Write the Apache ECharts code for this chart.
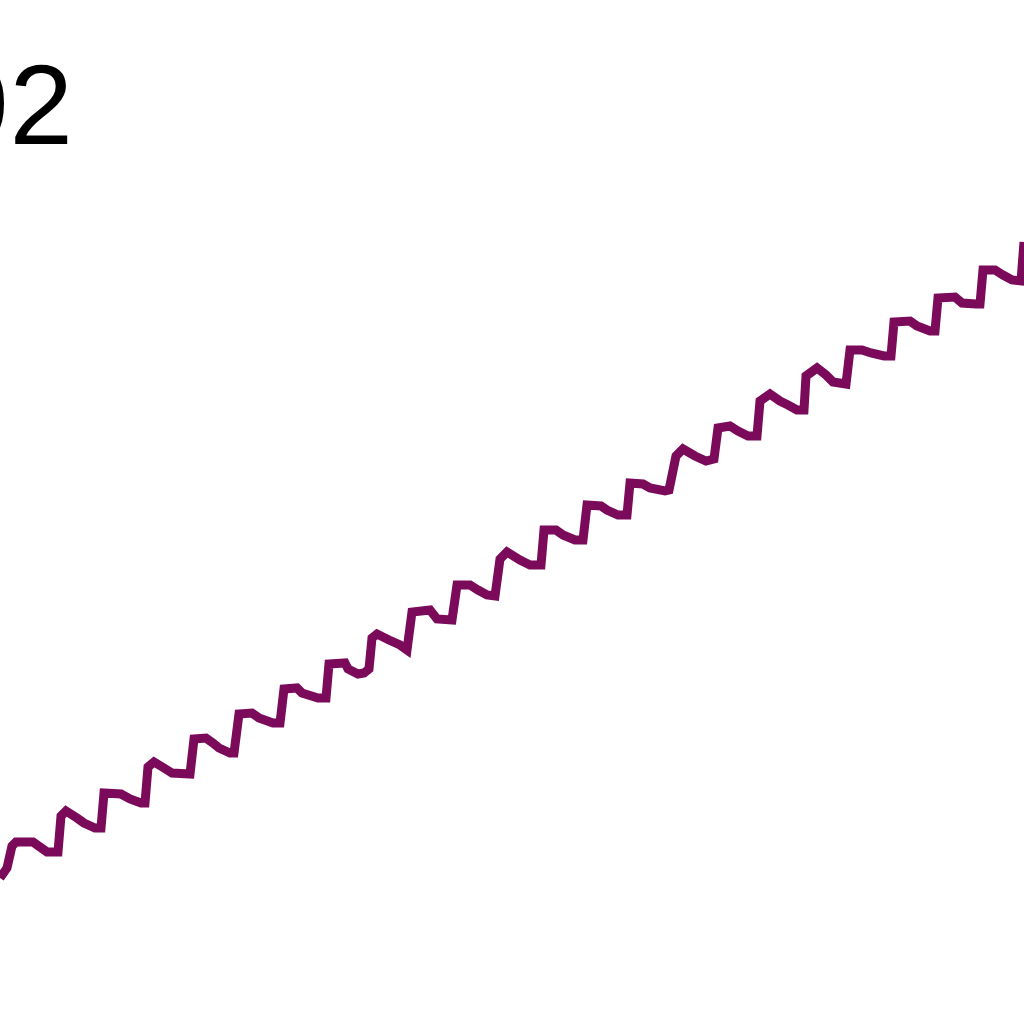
<!DOCTYPE html>
<html>
<head>
<meta charset="utf-8">
<script src="https://cdn.jsdelivr.net/npm/echarts@6/dist/echarts.min.js"></script>
<style>
html,body{margin:0;padding:0;background:#fff;}
#chart{width:1024px;height:1024px;}
</style>
</head>
<body>
<div id="chart"></div>
<script>
// Values (x: horizontal position units, v: height units)
var labelText = "92";
var xs = [
  0, 7, 12, 16, 33, 40, 47, 58,
  61, 66, 77, 84, 95, 101,
  104, 121, 130, 141, 145,
  148, 154, 164, 172, 190,
  194, 206, 213, 219, 230, 234,
  239, 252, 259, 273, 280,
  284, 297, 302, 318, 326,
  329, 345, 348, 358, 364, 369,
  372, 377, 389, 400, 407,
  412, 430, 437, 452,
  457, 470, 478, 487, 495,
  500, 507, 520, 530, 541,
  544, 556, 563, 575, 583,
  587, 601, 607, 618, 627,
  630, 643, 650, 665, 669,
  676, 683, 695, 706, 714,
  718, 730, 738, 748, 757,
  760, 770, 780, 788, 797, 804,
  806, 817, 826, 833, 846,
  850, 862, 871, 884, 891,
  894, 910, 917, 930, 935,
  938, 955, 962, 976, 980,
  983, 995, 1003, 1012, 1021,
  1024
];
var ys = [
  878, 868, 846, 842, 842, 847, 852, 852,
  816, 811, 818, 823, 828, 828,
  793, 794, 799, 803, 803,
  767, 762, 768, 773, 774,
  739, 738, 743, 748, 753, 753,
  714, 713, 718, 723, 723,
  689, 688, 693, 698, 698,
  664, 663, 669, 674, 673, 669,
  638, 634, 640, 645, 650,
  612, 610, 619, 620,
  585, 585, 590, 595, 596,
  559, 552, 560, 565, 565,
  530, 530, 535, 540, 540,
  505, 506, 510, 515, 515,
  483, 484, 488, 491, 490,
  456, 449, 456, 461, 459,
  428, 426, 431, 436, 436,
  401, 394, 401, 405, 410, 410,
  376, 368, 375, 382, 384,
  350, 350, 353, 356, 356,
  322, 321, 326, 331, 331,
  298, 297, 303, 304, 304,
  270, 270, 275, 280, 281,
  242
];
var values = ys.map(function (y) { return 1024 - y; });
var seriesData = xs.map(function (x, i) { return [x, values[i]]; });

var chart = echarts.init(document.getElementById('chart'), null, {renderer: 'canvas'});
chart.setOption({
  animation: false,
  backgroundColor: '#ffffff',
  title: {
    text: labelText,
    left: -54,
    top: 56,
    padding: 0,
    textStyle: {
      fontFamily: 'Liberation Sans, Arial, sans-serif',
      fontSize: 114,
      fontWeight: 'normal',
      color: '#000000'
    }
  },
  grid: {left: 0, right: 0, top: 0, bottom: 0, containLabel: false},
  xAxis: {
    type: 'value', min: 0, max: 1024,
    show: false
  },
  yAxis: {
    type: 'value', min: 0, max: 1024,
    show: false
  },
  series: [{
    type: 'line',
    data: seriesData,
    symbol: 'none',
    clip: true,
    lineStyle: {color: '#7b0a5a', width: 9, join: 'miter', cap: 'butt'}
  }]
});
</script>
</body>
</html>
